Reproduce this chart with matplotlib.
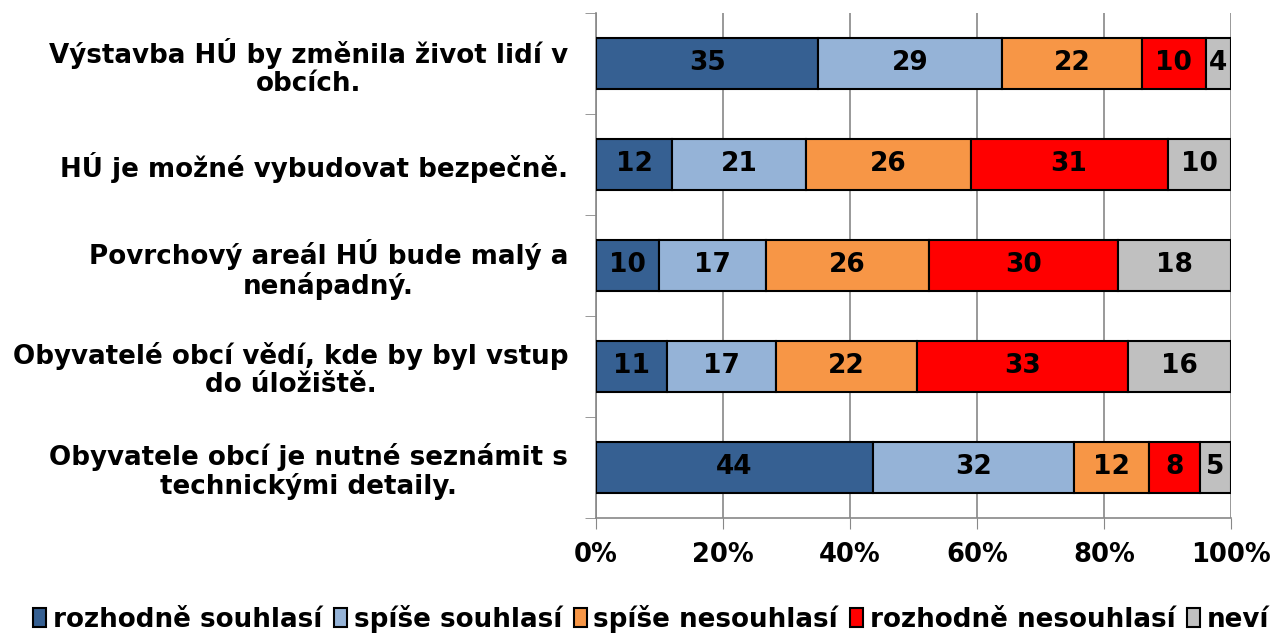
import numpy as np
import matplotlib
matplotlib.use("Agg")
import matplotlib.pyplot as plt

# otázky (shora dolů)
questions = [
    "Výstavba HÚ by změnila život lidí v\nobcích.",
    "HÚ je možné vybudovat bezpečně.",
    "Povrchový areál HÚ bude malý a\nnenápadný.",
    "Obyvatelé obcí vědí, kde by byl vstup\ndo úložiště.",
    "Obyvatele obcí je nutné seznámit s\ntechnickými detaily.",
]
series_names = ["rozhodně souhlasí", "spíše souhlasí", "spíše nesouhlasí",
                "rozhodně nesouhlasí", "neví"]
rozhodne_souhlasi   = [35, 12, 10, 11, 44]
spise_souhlasi      = [29, 21, 17, 17, 32]
spise_nesouhlasi    = [22, 26, 26, 22, 12]
rozhodne_nesouhlasi = [10, 31, 30, 33, 8]
nevi                = [4, 10, 18, 16, 5]
colors = ["#366092", "#95B3D7", "#F79646", "#FF0000", "#C0C0C0"]

plt.rcParams["font.family"] = ["DejaVu Sans"]
plt.rcParams["font.weight"] = "bold"

data = np.array([rozhodne_souhlasi, spise_souhlasi, spise_nesouhlasi,
                 rozhodne_nesouhlasi, nevi], dtype=float)
shares = data / data.sum(axis=0)   # 100% skládaný graf

fig = plt.figure(figsize=(12.77, 6.34), dpi=100)
ax = fig.add_axes([0.4667, 0.183, 0.4973, 0.7965])

y = np.arange(len(questions))
left = np.zeros(len(questions))
for vals, share, name, col in zip(data, shares, series_names, colors):
    bars = ax.barh(y, share, left=left, height=0.5, color=col,
                   edgecolor="black", linewidth=1.5, label=name, zorder=3)
    for b, v in zip(bars, vals):
        ax.text(b.get_x() + b.get_width() / 2, b.get_y() + b.get_height() / 2,
                f"{v:.0f}", ha="center", va="center", fontsize=19,
                fontweight="bold", zorder=4)
    left += share

ax.set_xlim(0, 1)
ax.set_ylim(len(questions) - 0.5, -0.5)
ax.set_xticks(np.linspace(0, 1, 6))
ax.set_xticklabels([f"{int(t)}%" for t in np.linspace(0, 100, 6)],
                   fontsize=18.5, fontweight="bold")
ax.set_yticks(y)
ax.set_yticklabels(questions, fontsize=18.8, fontweight="bold", ha="right",
                   multialignment="center", linespacing=1.1)
ax.tick_params(axis="y", length=0, pad=20)
ax.set_yticks(np.arange(-0.5, len(questions)), minor=True)
ax.tick_params(axis="y", which="minor", length=8, color="#888888")
ax.tick_params(axis="x", length=8, color="#888888", pad=9, direction="out")
ax.grid(axis="x", color="#888888", linewidth=1.2, zorder=0)
for s in ["top", "right"]:
    ax.spines[s].set_visible(False)
for s in ["left", "bottom"]:
    ax.spines[s].set_color("#888888")
    ax.spines[s].set_linewidth(1.2)

fig.legend(loc="lower center", bbox_to_anchor=(0.51, -0.027), ncol=5,
           frameon=False, fontsize=18.8, handlelength=0.5, handleheight=0.75,
           handletextpad=0.25, columnspacing=0.45, borderaxespad=0.3)

fig.savefig("out.png", dpi=100)
